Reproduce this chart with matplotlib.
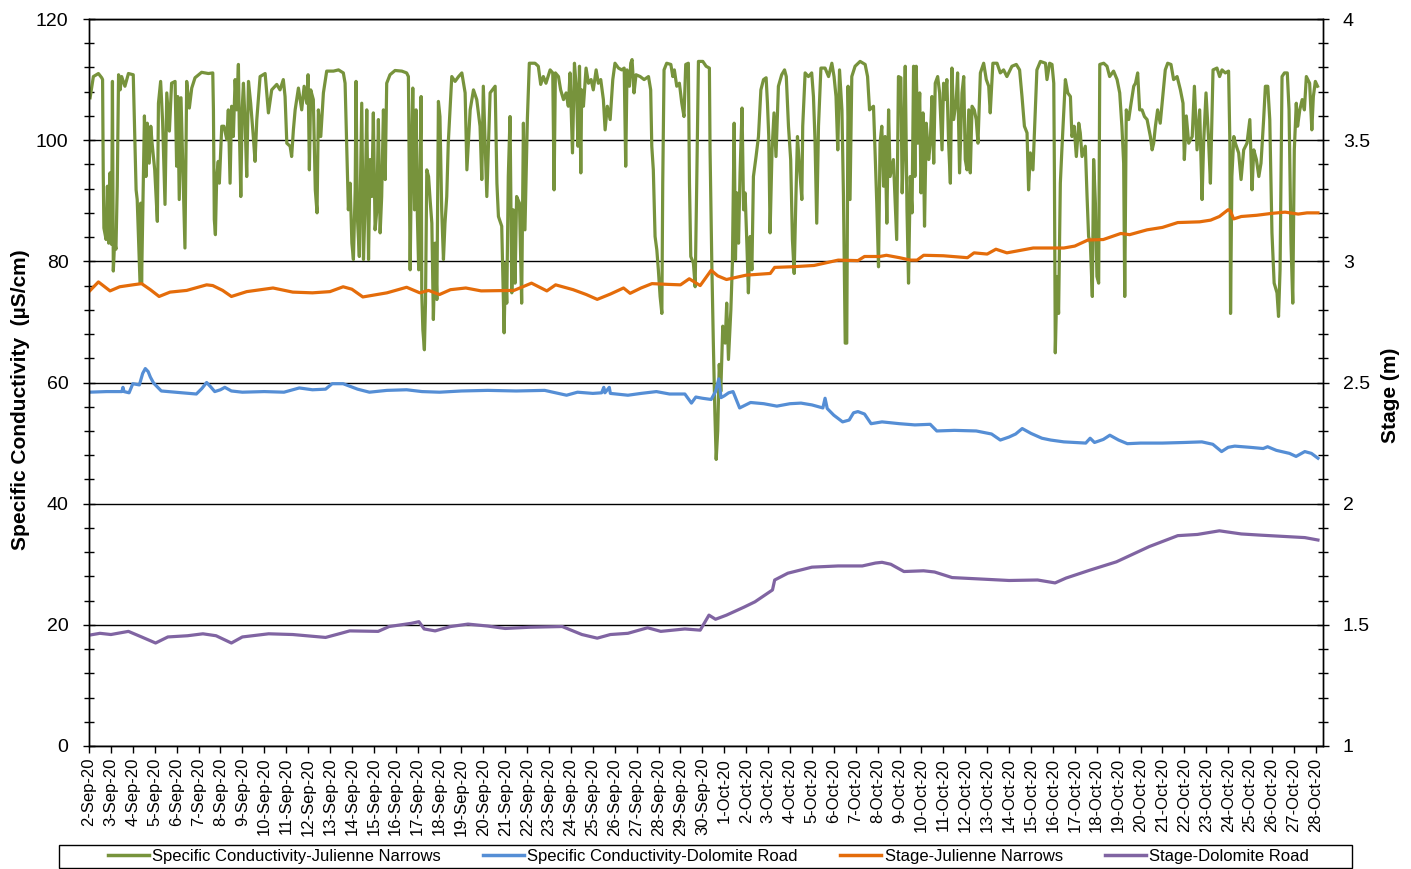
import numpy as np
import pandas as pd
import matplotlib
matplotlib.use("Agg")
import matplotlib.pyplot as plt
from matplotlib.ticker import MultipleLocator
from matplotlib.patches import Rectangle

plt.rcParams['font.family'] = ['Liberation Sans', 'DejaVu Sans']

# ---------------- data (day offset from 2-Sep-2020 00:00, value) ----------------
start_date = "2020-09-02"

# Specific Conductivity - Julienne Narrows (uS/cm)
scjn_points = [
    (0.05,107.0),(0.2,110.5),(0.43,111.0),(0.58,110.3),(0.62,110.0),(0.65,94.6),(0.68,85.5),(0.78,83.6),(0.84,92.4),(0.9,83.0),
    (0.96,94.6),(1.03,82.8),(1.07,109.7),(1.11,78.4),(1.17,83.3),(1.23,82.0),(1.29,92.4),(1.35,110.8),(1.42,108.3),(1.49,110.5),
    (1.64,108.9),(1.8,111.0),(2.02,110.8),(2.1,99.0),(2.15,91.8),(2.2,90.2),(2.33,76.4),(2.36,89.6),(2.4,76.4),(2.48,94.0),
    (2.53,104.0),(2.6,94.0),(2.66,102.8),(2.75,96.2),(2.82,102.3),(2.88,99.5),(3.0,95.1),(3.12,86.6),(3.17,106.1),(3.27,109.7),
    (3.36,103.1),(3.47,89.4),(3.55,107.8),(3.67,101.5),(3.77,109.4),(3.93,109.7),(4.0,95.7),(4.05,107.2),(4.12,90.2),(4.2,107.0),
    (4.3,92.9),(4.38,82.2),(4.46,109.7),(4.58,105.3),(4.69,108.6),(4.84,110.3),(5.14,111.2),(5.45,111.0),(5.65,111.1),(5.68,105.0),
    (5.72,86.9),(5.77,84.4),(5.83,94.0),(5.9,96.5),(5.95,92.9),(6.06,102.3),(6.16,102.3),(6.29,100.1),(6.36,105.0),(6.44,92.9),
    (6.51,105.6),(6.59,100.6),(6.67,110.0),(6.74,105.0),(6.82,112.5),(6.86,102.3),(6.93,90.7),(6.99,105.0),(7.05,109.4),(7.12,103.4),
    (7.2,94.0),(7.28,109.7),(7.38,106.1),(7.5,100.6),(7.58,96.5),(7.66,103.4),(7.81,110.5),(8.04,111.0),(8.19,104.5),(8.34,108.3),
    (8.57,109.2),(8.72,108.3),(8.87,110.0),(8.95,107.2),(9.03,99.5),(9.18,99.0),(9.25,97.3),(9.33,101.7),(9.41,105.0),(9.56,108.6),
    (9.71,105.0),(9.82,108.9),(9.94,106.1),(10.0,110.8),(10.06,95.1),(10.12,108.3),(10.24,106.7),(10.33,91.8),(10.41,88.0),(10.47,105.0),
    (10.58,100.6),(10.7,107.8),(10.85,111.4),(11.16,111.4),(11.39,111.6),(11.61,111.1),(11.69,109.4),(11.77,97.9),(11.84,88.5),(11.92,92.9),
    (12.0,83.0),(12.07,80.3),(12.15,91.8),(12.19,109.7),(12.25,87.4),(12.34,80.8),(12.45,106.1),(12.53,80.3),(12.6,89.1),(12.68,105.0),
    (12.76,80.3),(12.83,96.8),(12.91,90.7),(12.98,104.5),(13.06,85.2),(13.14,88.5),(13.21,103.4),(13.29,84.7),(13.36,90.7),(13.44,105.0),
    (13.52,93.5),(13.59,109.4),(13.74,110.8),(13.97,111.5),(14.28,111.4),(14.5,111.1),(14.58,110.5),(14.66,78.6),(14.73,99.5),(14.78,108.6),
    (14.86,88.5),(14.93,105.0),(14.99,87.4),(15.05,78.6),(15.11,95.1),(15.16,107.2),(15.19,74.8),(15.24,68.7),(15.31,65.4),(15.36,73.1),
    (15.42,95.1),(15.5,94.0),(15.57,90.2),(15.65,86.3),(15.72,70.4),(15.8,83.0),(15.88,73.7),(15.95,106.4),(16.02,103.9),(16.1,88.5),
    (16.18,80.3),(16.25,86.3),(16.33,90.7),(16.4,99.5),(16.48,105.0),(16.56,110.5),(16.71,109.7),(16.87,110.5),(17.02,111.1),(17.17,107.8),
    (17.25,95.1),(17.4,105.0),(17.55,108.3),(17.7,106.7),(17.85,102.3),(17.93,93.5),(18.0,108.9),(18.16,90.7),(18.31,107.8),(18.54,108.9),
    (18.62,92.9),(18.69,87.4),(18.84,85.8),(18.95,68.2),(19.01,79.7),(19.07,73.1),(19.14,94.0),(19.22,103.9),(19.3,74.8),(19.37,88.5),
    (19.45,76.4),(19.52,90.7),(19.65,89.6),(19.75,73.1),(19.83,102.8),(19.9,85.2),(20.01,103.4),(20.1,112.7),(20.36,112.7),(20.51,112.2),
    (20.62,109.2),(20.74,110.5),(20.86,109.4),(21.05,111.6),(21.17,111.1),(21.23,91.8),(21.29,111.1),(21.43,110.5),(21.53,108.3),(21.66,106.7),
    (21.78,107.8),(21.88,105.6),(21.96,111.1),(22.07,97.9),(22.16,112.7),(22.26,107.8),(22.32,99.0),(22.39,112.2),(22.45,94.6),(22.49,108.3),
    (22.57,105.6),(22.69,111.9),(22.8,109.4),(22.92,110.0),(23.02,108.3),(23.15,111.6),(23.25,109.4),(23.36,110.0),(23.48,106.7),(23.56,101.7),
    (23.66,105.6),(23.79,103.4),(23.91,110.0),(24.01,112.7),(24.17,111.9),(24.32,111.6),(24.43,111.9),(24.5,95.7),(24.56,111.6),(24.67,108.9),
    (24.73,112.7),(24.79,113.3),(24.88,107.8),(24.97,110.8),(25.16,110.5),(25.34,110.0),(25.54,110.5),(25.64,108.3),(25.69,99.0),(25.76,95.1),
    (25.84,84.1),(25.92,81.9),(25.99,78.6),(26.07,74.2),(26.15,71.4),(26.19,92.9),(26.25,111.6),(26.37,112.7),(26.56,112.5),(26.65,110.5),
    (26.72,111.6),(26.83,108.9),(26.95,109.4),(27.06,106.1),(27.16,103.9),(27.24,112.5),(27.36,112.7),(27.41,92.9),(27.47,80.8),(27.59,79.7),
    (27.67,75.8),(27.74,92.4),(27.82,113.0),(28.02,113.0),(28.17,112.2),(28.32,111.9),(28.35,98.4),(28.43,79.7),(28.5,66.5),(28.57,55.0),
    (28.63,47.3),(28.7,52.0),(28.77,63.0),(28.84,58.5),(28.93,69.3),(29.04,66.5),(29.11,73.1),(29.19,63.8),(29.3,72.0),(29.37,79.7),
    (29.45,102.8),(29.51,80.3),(29.57,91.3),(29.65,83.0),(29.72,94.6),(29.81,105.3),(29.88,88.5),(29.95,91.3),(30.03,83.0),(30.1,74.8),
    (30.18,84.1),(30.26,78.6),(30.33,94.0),(30.45,97.3),(30.56,100.6),(30.67,108.3),(30.79,110.0),(30.91,110.3),(30.97,106.1),(31.03,100.6),
    (31.09,84.7),(31.18,98.4),(31.27,104.5),(31.36,97.3),(31.47,108.9),(31.62,110.8),(31.75,111.6),(31.83,110.5),(31.93,102.3),(32.03,96.8),
    (32.11,83.6),(32.19,78.0),(32.27,90.7),(32.34,100.6),(32.43,95.7),(32.54,90.2),(32.58,102.3),(32.69,111.1),(32.84,110.5),(32.99,111.1),
    (33.07,107.2),(33.14,100.1),(33.22,86.3),(33.3,102.3),(33.41,111.9),(33.6,111.9),(33.76,110.5),(33.91,112.7),(34.01,110.5),(34.1,107.2),
    (34.18,98.4),(34.26,111.6),(34.37,105.0),(34.44,90.7),(34.52,66.5),(34.59,66.5),(34.65,108.9),(34.74,90.2),(34.82,110.5),(34.97,112.2),
    (35.2,113.0),(35.43,112.5),(35.54,110.5),(35.63,105.0),(35.81,105.6),(35.88,98.4),(35.96,89.6),(36.04,79.1),(36.11,99.5),(36.19,102.3),
    (36.27,92.4),(36.34,100.6),(36.42,86.3),(36.5,105.0),(36.57,94.0),(36.72,96.8),(36.87,83.6),(36.95,110.5),(37.06,110.3),(37.12,91.3),
    (37.19,99.5),(37.26,112.2),(37.34,88.5),(37.41,76.4),(37.49,94.0),(37.57,88.0),(37.64,112.2),(37.7,94.0),(37.76,112.2),(37.83,99.5),
    (37.92,107.8),(37.98,91.3),(38.07,104.5),(38.14,85.8),(38.22,102.8),(38.33,96.8),(38.4,99.5),(38.48,107.2),(38.56,96.2),(38.63,109.4),
    (38.74,110.5),(38.83,107.8),(38.94,98.4),(39.01,109.4),(39.08,106.7),(39.16,110.0),(39.24,99.5),(39.32,92.9),(39.39,111.9),(39.47,103.4),
    (39.59,106.7),(39.65,111.1),(39.74,94.6),(39.85,107.8),(39.93,110.5),(40.0,96.8),(40.08,95.1),(40.16,105.0),(40.23,94.6),(40.31,105.6),
    (40.41,105.0),(40.5,103.4),(40.58,99.5),(40.69,111.1),(40.84,112.7),(40.96,110.0),(41.07,108.9),(41.14,104.5),(41.26,112.7),(41.45,112.7),
    (41.6,111.1),(41.75,111.6),(41.9,110.5),(42.13,112.2),(42.33,112.5),(42.48,111.6),(42.59,107.2),(42.7,102.3),(42.82,101.2),(42.89,91.8),
    (42.97,97.9),(43.09,95.1),(43.15,100.6),(43.27,111.6),(43.43,113.0),(43.66,112.7),(43.73,110.0),(43.85,112.7),(43.96,112.5),(44.04,109.4),
    (44.07,94.0),(44.11,64.9),(44.19,77.5),(44.26,71.4),(44.34,92.9),(44.41,98.4),(44.57,110.0),(44.68,107.8),(44.8,107.2),(44.87,100.6),
    (44.97,102.3),(45.07,97.3),(45.18,102.8),(45.25,101.2),(45.33,97.3),(45.48,99.0),(45.56,90.7),(45.63,84.1),(45.71,83.0),(45.8,74.2),
    (45.86,96.8),(45.94,89.6),(46.01,77.5),(46.09,76.4),(46.14,112.5),(46.32,112.7),(46.47,112.2),(46.59,110.5),(46.77,111.4),(46.93,110.0),
    (47.05,107.8),(47.15,102.3),(47.23,96.2),(47.28,74.2),(47.35,105.0),(47.46,103.4),(47.57,106.1),(47.69,108.9),(47.77,109.4),(47.87,111.1),
    (47.96,105.0),(48.07,105.0),(48.18,103.9),(48.3,103.4),(48.45,100.6),(48.53,98.4),(48.6,99.5),(48.68,102.3),(48.78,105.0),(48.9,102.8),
    (49.03,107.8),(49.13,111.6),(49.24,112.7),(49.39,112.5),(49.51,110.0),(49.67,110.5),(49.82,108.3),(49.94,106.1),(50.0,96.8),(50.09,104.0),
    (50.2,99.5),(50.36,100.6),(50.46,108.9),(50.58,98.4),(50.7,105.0),(50.81,90.2),(50.88,99.5),(50.99,107.8),(51.1,100.6),(51.19,92.9),
    (51.31,111.6),(51.49,111.9),(51.61,110.5),(51.72,111.6),(51.87,111.1),(52.02,111.4),(52.08,99.5),(52.11,71.4),(52.17,94.0),(52.26,100.6),
    (52.33,99.5),(52.48,97.9),(52.59,93.5),(52.71,98.4),(52.86,99.5),(52.99,103.4),(53.09,91.8),(53.17,98.4),(53.29,96.8),(53.4,94.0),
    (53.5,96.2),(53.62,103.4),(53.7,108.9),(53.81,108.9),(53.9,103.4),(54.0,84.7),(54.1,76.4),(54.23,74.8),(54.3,70.9),(54.37,78.6),
    (54.46,110.5),(54.57,111.1),(54.7,111.1),(54.78,105.0),(54.87,83.0),(54.95,73.1),(55.02,98.4),(55.11,106.1),(55.17,102.3),(55.27,105.0),
    (55.38,106.7),(55.48,105.0),(55.57,110.5),(55.72,109.4),(55.82,101.7),(55.89,107.2),(55.98,109.7),(56.08,108.9),
]

# Specific Conductivity - Dolomite Road (uS/cm)
scdr_points = [
    (0.0,58.4),(0.8,58.5),(1.5,58.5),(1.55,59.2),(1.6,58.5),(1.83,58.3),(2.0,59.8),(2.3,59.6),(2.45,61.5),(2.57,62.3),
    (2.7,61.8),(2.8,60.9),(2.95,59.9),(3.3,58.6),(4.25,58.3),(4.9,58.1),(5.15,59.0),(5.37,60.0),(5.55,59.3),(5.74,58.5),
    (6.0,58.8),(6.2,59.2),(6.5,58.6),(7.0,58.4),(8.0,58.5),(8.9,58.4),(9.6,59.1),(10.2,58.8),(10.8,58.9),(11.1,59.8),
    (11.6,59.8),(12.26,58.9),(12.8,58.4),(13.6,58.7),(14.5,58.8),(15.2,58.5),(16.0,58.4),(17.0,58.6),(18.2,58.7),(19.5,58.6),
    (20.8,58.7),(21.8,57.9),(22.3,58.4),(23.0,58.2),(23.4,58.3),(23.5,59.2),(23.55,58.3),(23.75,59.2),(23.8,58.2),(24.6,57.9),
    (25.2,58.2),(25.9,58.5),(26.5,58.1),(27.2,58.1),(27.5,56.6),(27.7,57.6),(28.0,57.4),(28.4,57.2),(28.6,58.5),(28.75,60.6),
    (28.85,57.5),(29.0,57.8),(29.2,58.3),(29.4,58.5),(29.7,55.8),(30.2,56.7),(30.8,56.5),(31.4,56.1),(32.0,56.5),(32.5,56.6),
    (33.0,56.3),(33.5,55.8),(33.6,57.4),(33.7,55.7),(34.0,54.6),(34.4,53.5),(34.7,53.8),(34.9,55.0),(35.1,55.2),(35.4,54.8),
    (35.7,53.2),(36.2,53.5),(37.0,53.2),(37.7,53.0),(38.4,53.1),(38.7,52.0),(39.5,52.1),(40.5,52.0),(41.2,51.5),(41.6,50.5),
    (42.0,51.0),(42.3,51.5),(42.6,52.4),(43.0,51.6),(43.5,50.8),(43.9,50.5),(44.5,50.2),(45.0,50.1),(45.5,50.0),(45.7,50.8),
    (45.9,50.1),(46.3,50.6),(46.6,51.3),(47.0,50.5),(47.4,49.9),(48.0,50.0),(49.0,50.0),(50.0,50.1),(50.8,50.2),(51.3,49.8),
    (51.7,48.6),(52.0,49.3),(52.3,49.5),(53.0,49.3),(53.6,49.1),(53.8,49.4),(54.2,48.8),(54.8,48.3),(55.1,47.8),(55.5,48.6),
    (55.8,48.3),(56.1,47.5),
]

# Stage - Julienne Narrows (m)
stjn_points = [
    (0.0,2.875),(0.43,2.915),(0.96,2.878),(1.4,2.895),(2.0,2.903),(2.4,2.908),(2.8,2.883),(3.2,2.855),(3.7,2.873),(4.46,2.88),
    (5.37,2.903),(5.65,2.90),(6.1,2.88),(6.5,2.855),(7.2,2.875),(8.4,2.89),(9.3,2.873),(10.2,2.87),(11.0,2.875),(11.6,2.895),
    (12.0,2.885),(12.5,2.853),(13.6,2.87),(14.5,2.893),(15.1,2.87),(15.5,2.88),(16.0,2.863),(16.5,2.883),(17.2,2.89),(17.9,2.878),
    (19.4,2.88),(20.2,2.91),(20.9,2.878),(21.3,2.903),(22.1,2.883),(22.7,2.863),(23.2,2.843),(23.8,2.865),(24.4,2.89),(24.7,2.868),
    (25.2,2.89),(25.7,2.908),(26.4,2.905),(27.0,2.903),(27.4,2.928),(27.9,2.90),(28.4,2.963),(28.7,2.94),(29.1,2.925),(30.0,2.943),
    (31.1,2.95),(31.3,2.975),(32.2,2.978),(33.1,2.983),(33.7,2.995),(34.2,3.005),(35.1,3.003),(35.4,3.02),(36.1,3.02),(36.4,3.025),
    (37.0,3.015),(37.5,3.005),(37.8,3.005),(38.1,3.025),(39.0,3.023),(40.1,3.015),(40.4,3.035),(41.0,3.03),(41.4,3.05),(41.9,3.035),
    (43.1,3.055),(44.5,3.055),(45.0,3.063),(45.6,3.088),(46.3,3.09),(47.1,3.115),(47.5,3.11),(48.3,3.13),(49.0,3.14),(49.7,3.16),
    (50.7,3.163),(51.2,3.17),(51.6,3.185),(52.0,3.213),(52.1,3.208),(52.25,3.175),(52.6,3.185),(53.3,3.19),(54.0,3.198),(54.6,3.203),
    (55.2,3.195),(55.6,3.20),(56.1,3.20),
]

# Stage - Dolomite Road (m)
stdr_points = [
    (0.05,1.458),(0.5,1.465),(1.0,1.46),(1.8,1.473),(2.4,1.45),(3.04,1.425),(3.6,1.45),(4.5,1.455),(5.2,1.463),(5.8,1.455),
    (6.5,1.425),(7.0,1.45),(8.2,1.463),(9.3,1.46),(10.8,1.448),(11.5,1.465),(11.9,1.475),(13.2,1.473),(13.7,1.493),(14.7,1.506),
    (15.06,1.513),(15.3,1.483),(15.8,1.475),(16.5,1.493),(17.3,1.503),(18.2,1.495),(19.0,1.485),(20.1,1.49),(21.6,1.493),(22.5,1.46),
    (23.2,1.445),(23.8,1.46),(24.6,1.465),(25.5,1.488),(26.1,1.473),(27.2,1.483),(27.9,1.478),(28.3,1.54),(28.6,1.523),(29.1,1.54),
    (29.9,1.573),(30.4,1.595),(31.2,1.644),(31.3,1.685),(31.9,1.713),(33.0,1.738),(34.2,1.743),(35.3,1.743),(35.9,1.755),(36.2,1.758),
    (36.6,1.75),(37.2,1.72),(38.1,1.723),(38.6,1.718),(39.4,1.695),(40.5,1.69),(42.0,1.683),(43.3,1.685),(44.1,1.673),(44.6,1.693),
    (45.7,1.726),(46.9,1.76),(48.4,1.823),(49.7,1.868),(50.6,1.873),(51.6,1.888),(52.6,1.875),(53.5,1.87),(54.5,1.865),(55.5,1.86),
    (56.1,1.85),
]

series_names = ["Specific Conductivity-Julienne Narrows", "Specific Conductivity-Dolomite Road",
                "Stage-Julienne Narrows", "Stage-Dolomite Road"]
series_colors = ["#77933C", "#558ED5", "#E46C0A", "#8064A2"]

left_ticks = [0, 20, 40, 60, 80, 100, 120]
right_ticks = [1, 1.5, 2, 2.5, 3, 3.5, 4]
tick_dates = pd.date_range("2020-09-02", "2020-10-28", freq="D")
tick_labels = [f"{d.day}-{d.strftime('%b')}-{d.strftime('%y')}" for d in tick_dates]

# ---------------- plotting ----------------
base = pd.Timestamp(start_date)

def to_xy(points):
    d = np.array([p[0] for p in points])
    v = np.array([p[1] for p in points])
    t = base + pd.to_timedelta(d, unit="D")
    return t, v

W, H = 1411, 869
fig = plt.figure(figsize=(W / 100, H / 100), dpi=100)
L, R, T, B = 89, 1323, 19, 746
ax = fig.add_axes([L / W, 1 - B / H, (R - L) / W, (B - T) / H])
ax2 = ax.twinx()

lw = 2.3
t, v = to_xy(scjn_points)
h1, = ax.plot(t, v, color=series_colors[0], lw=lw, label=series_names[0], solid_joinstyle="round")
t, v = to_xy(scdr_points)
h2, = ax.plot(t, v, color=series_colors[1], lw=lw, label=series_names[1], solid_joinstyle="round")
t, v = to_xy(stjn_points)
h3, = ax2.plot(t, v, color=series_colors[2], lw=lw, label=series_names[2], solid_joinstyle="round")
t, v = to_xy(stdr_points)
h4, = ax2.plot(t, v, color=series_colors[3], lw=lw, label=series_names[3], solid_joinstyle="round")

ax.set_xlim(base, base + pd.Timedelta(days=56.33))
ax.set_ylim(0, 120)
ax2.set_ylim(1, 4)

ax.set_yticks(left_ticks)
ax.set_yticklabels([str(x) for x in left_ticks])
ax.yaxis.set_minor_locator(MultipleLocator(4))
ax2.set_yticks(right_ticks)
ax2.set_yticklabels([f"{x:g}" for x in right_ticks])
ax2.yaxis.set_minor_locator(MultipleLocator(0.1))

ax.set_xticks(list(tick_dates))
ax.set_xticklabels(tick_labels, rotation=90, fontsize=12)

ax.grid(axis="y", which="major", color="black", lw=1.0)
ax.set_axisbelow(True)

for a in (ax, ax2):
    for s in a.spines.values():
        s.set_color("black")
        s.set_linewidth(1.0)

ax.tick_params(axis="y", which="major", direction="inout", length=8.5, width=1.0, labelsize=14, pad=10.5, colors="black")
ax.tick_params(axis="y", which="minor", direction="inout", length=7, width=1.0)
ax2.tick_params(axis="y", which="major", direction="inout", length=8.5, width=1.0, labelsize=14, pad=10, colors="black")
ax2.tick_params(axis="y", which="minor", direction="inout", length=7, width=1.0)
ax.tick_params(axis="x", which="major", direction="out", length=5, width=1.0, pad=3.5, colors="black")

ax.set_ylabel("Specific Conductivity  (µS/cm)", fontsize=15, fontweight="bold")
ax.yaxis.set_label_coords(-0.0478, 0.477)
ax2.set_ylabel("Stage (m)", fontsize=15, fontweight="bold")
ax2.yaxis.set_label_coords(1.047, 0.483)

leg = fig.legend(handles=[h1, h2, h3, h4], loc="center", ncol=4,
                 bbox_to_anchor=(708.5 / W, 1 - 856.5 / H), frameon=False,
                 fontsize=12, handlelength=2.45, handletextpad=0.2, columnspacing=2.55,
                 borderpad=0.0, borderaxespad=0.0)
for ln in leg.get_lines():
    ln.set_linewidth(2.5)

fig.add_artist(Rectangle((59 / W, 1 - 868 / H), (1352 - 59) / W, (868 - 845) / H,
                         transform=fig.transFigure, fill=False, edgecolor="black", lw=1.0))

fig.savefig("out.png", dpi=100)
